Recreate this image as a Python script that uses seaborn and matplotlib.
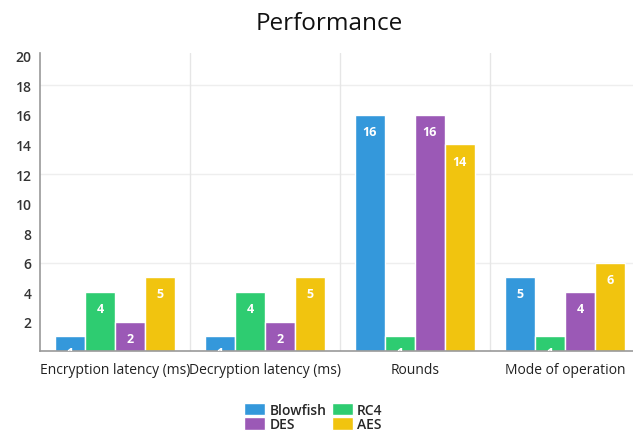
import matplotlib
matplotlib.use("Agg")
import matplotlib.pyplot as plt
import seaborn as sns
import pandas as pd
from matplotlib.patches import Patch

# chart data
categories = ["Encryption latency (ms)", "Decryption latency (ms)", "Rounds", "Mode of operation"]
ciphers = ["Blowfish", "RC4", "DES", "AES"]
blowfish = [1, 1, 16, 5]
rc4 = [4, 4, 1, 1]
des = [2, 2, 16, 4]
aes = [5, 5, 14, 6]
yticks = [2, 4, 6, 8, 10, 12, 14, 16, 18, 20]

colors = {"Blowfish": "#3498db", "RC4": "#2ecc71", "DES": "#9b59b6", "AES": "#f1c40f"}

rows = []
for name, vals in zip(ciphers, [blowfish, rc4, des, aes]):
    for cat, v in zip(categories, vals):
        rows.append({"category": cat, "cipher": name, "value": v})
df = pd.DataFrame(rows)

sns.set_style("white")
plt.rcParams["font.family"] = ["Open Sans", "DejaVu Sans"]

fig = plt.figure(figsize=(6.33, 4.39), dpi=100)
ax = fig.add_axes([0.063, 0.198, 0.948, 0.679])

sns.barplot(data=df, x="category", y="value", hue="cipher", hue_order=ciphers,
            order=categories, palette=colors, saturation=1, width=0.8,
            edgecolor="white", linewidth=1, legend=False, ax=ax)

ax.set_xlim(-0.5, 3.5)
ax.set_ylim(0, 20.2)
ax.set_yticks(yticks)
ax.set_yticklabels([str(t) for t in yticks], fontsize=10, color="#333333",
                   fontweight="semibold")
ax.tick_params(axis="x", labelsize=10, colors="#222222", length=0, pad=8)
ax.tick_params(axis="y", length=4, color="#dddddd", pad=2)
ax.set_xlabel("")
ax.set_ylabel("")

# faint gridlines
for y in [6, 12, 18]:
    ax.axhline(y, color="#eeeeee", lw=1, zorder=0)
for x in [0.5, 1.5, 2.5]:
    ax.axvline(x, color="#e6e6e6", lw=1, zorder=0)

for s in ["top", "right"]:
    ax.spines[s].set_visible(False)
ax.spines["left"].set_color("#999999")
ax.spines["bottom"].set_color("#999999")
ax.spines["left"].set_linewidth(1.2)
ax.spines["bottom"].set_linewidth(1.2)

# value labels inside the bar tops
for cont in ax.containers:
    for bar in cont:
        h = bar.get_height()
        ax.annotate(f"{h:.0f}", xy=(bar.get_x() + bar.get_width() / 2, h),
                    xytext=(0, -12), textcoords="offset points",
                    ha="center", va="center", color="white",
                    fontsize=9, fontweight="bold", clip_on=True,
                    annotation_clip=True)

ax.set_title("Performance", fontsize=17.5, pad=17, x=0.483, color="#111111")

order = ["Blowfish", "DES", "RC4", "AES"]
handles = [Patch(facecolor=colors[n], label=n) for n in order]
fig.legend(handles=handles, ncol=2, loc="center", bbox_to_anchor=(0.495, 0.048),
           frameon=False, handlelength=1.5, handleheight=1.0,
           handletextpad=0.3, columnspacing=0.4, labelspacing=0.05,
           prop={"weight": "semibold", "size": 10})

fig.savefig("out.png", dpi=100)
